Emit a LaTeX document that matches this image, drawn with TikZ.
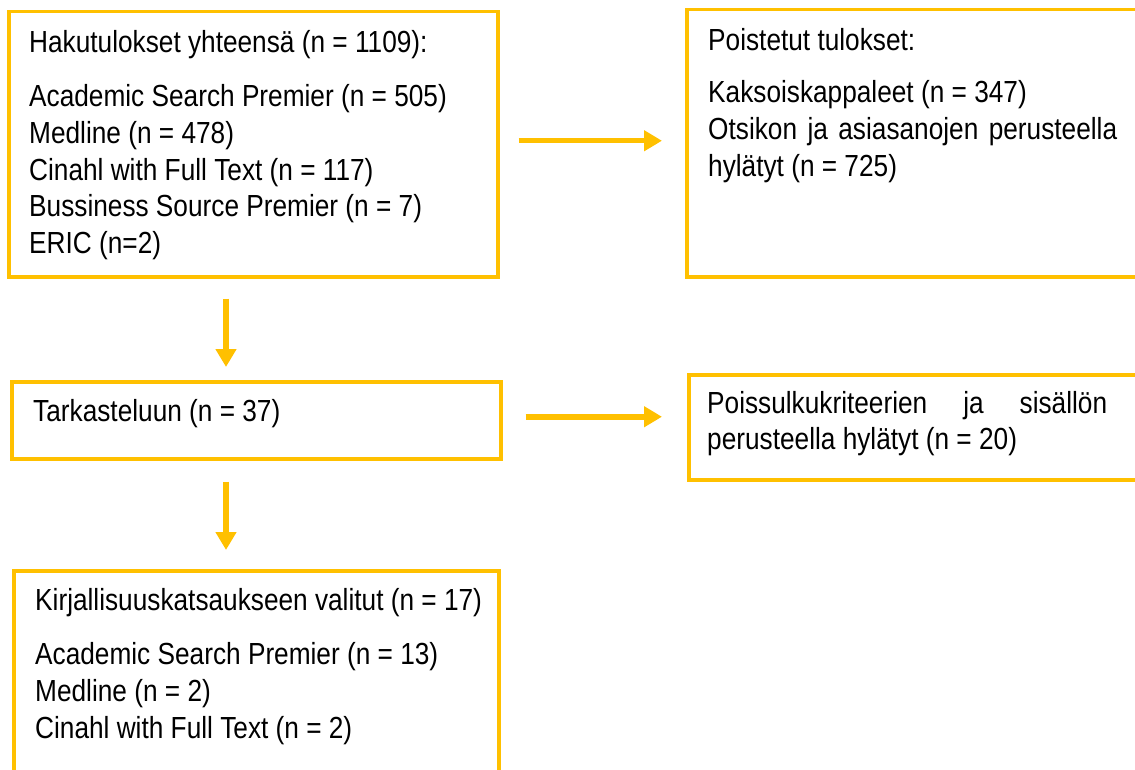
\documentclass[tikz,border=0pt]{standalone}
\usepackage{fontspec}
\setmainfont{Liberation Sans}[FakeStretch=0.86]
\usetikzlibrary{arrows.meta, calc}
\definecolor{boxgold}{HTML}{FFC000}

\begin{document}
\begin{tikzpicture}[x=1pt, y=-1pt, line join=miter,
	box/.style={draw=boxgold, line width=3.5pt, rectangle, inner sep=0pt, anchor=north west},
	txt/.style={anchor=north west, inner sep=0pt, align=left,
		font=\fontsize{30.5pt}{36.6pt}\selectfont},
	flow/.style={boxgold, line width=5.5pt, -{Triangle[length=18pt, width=20pt]}}]

\useasboundingbox (0,0) rectangle (1135,770);
\clip (0,0) rectangle (1135,770);

% ==== Left column ====
\node[box, minimum width=489pt, minimum height=265pt] (hakuBox) at (7,10) {};
\node[txt] (hakuTxt) at (29,30) {Hakutulokset yhteensä (n = 1109):\\[18pt]
	Academic Search Premier (n = 505)\\
	Medline (n = 478)\\
	Cinahl with Full Text (n = 117)\\
	Bussiness Source Premier (n = 7)\\
	ERIC (n=2)};

\node[box, minimum width=489pt, minimum height=77pt] (tarkBox) at (10,380) {};
\node[txt] (tarkTxt) at (33,399) {Tarkasteluun (n = 37)};

\node[box, minimum width=485pt, minimum height=240pt] (valitBox) at (12,569) {};
\node[txt] (valitTxt) at (35,588) {Kirjallisuuskatsaukseen valitut (n = 17)\\[18pt]
	Academic Search Premier (n = 13)\\
	Medline (n = 2)\\
	Cinahl with Full Text (n = 2)};

% ==== Right column ====
\node[box, minimum width=470pt, minimum height=267pt] (poistBox) at (685,8) {};
\node[txt] (poistTxt) at (708,28) {Poistetut tulokset:\\[16pt]
	Kaksoiskappaleet (n = 347)\\
	\makebox[409pt][s]{Otsikon ja asiasanojen perusteella}\\
	hylätyt (n = 725)};

\node[box, minimum width=470pt, minimum height=105pt] (sulkuBox) at (687,373) {};
\node[txt] (sulkuTxt) at (707,391) {\makebox[400pt][s]{Poissulkukriteerien ja sisällön}\\
	perusteella hylätyt (n = 20)};

% ==== Arrows ====
\coordinate (rowOne) at ([yshift=3.5pt]hakuBox.east);
\coordinate (rowTwo) at ([yshift=3.5pt]tarkBox.east);
\coordinate (colArrow) at (226,0);

\draw[flow, shorten <=19pt, shorten >=23pt] (rowOne) -- (rowOne -| poistBox.west);
\draw[flow, shorten <=23pt, shorten >=25pt] (rowTwo) -- (rowTwo -| sulkuBox.west);
\draw[flow, shorten <=20pt, shorten >=13pt] (colArrow |- hakuBox.south) -- (colArrow |- tarkBox.north);
\draw[flow, shorten <=21pt, shorten >=19pt] (colArrow |- tarkBox.south) -- (colArrow |- valitBox.north);

\end{tikzpicture}
\end{document}
